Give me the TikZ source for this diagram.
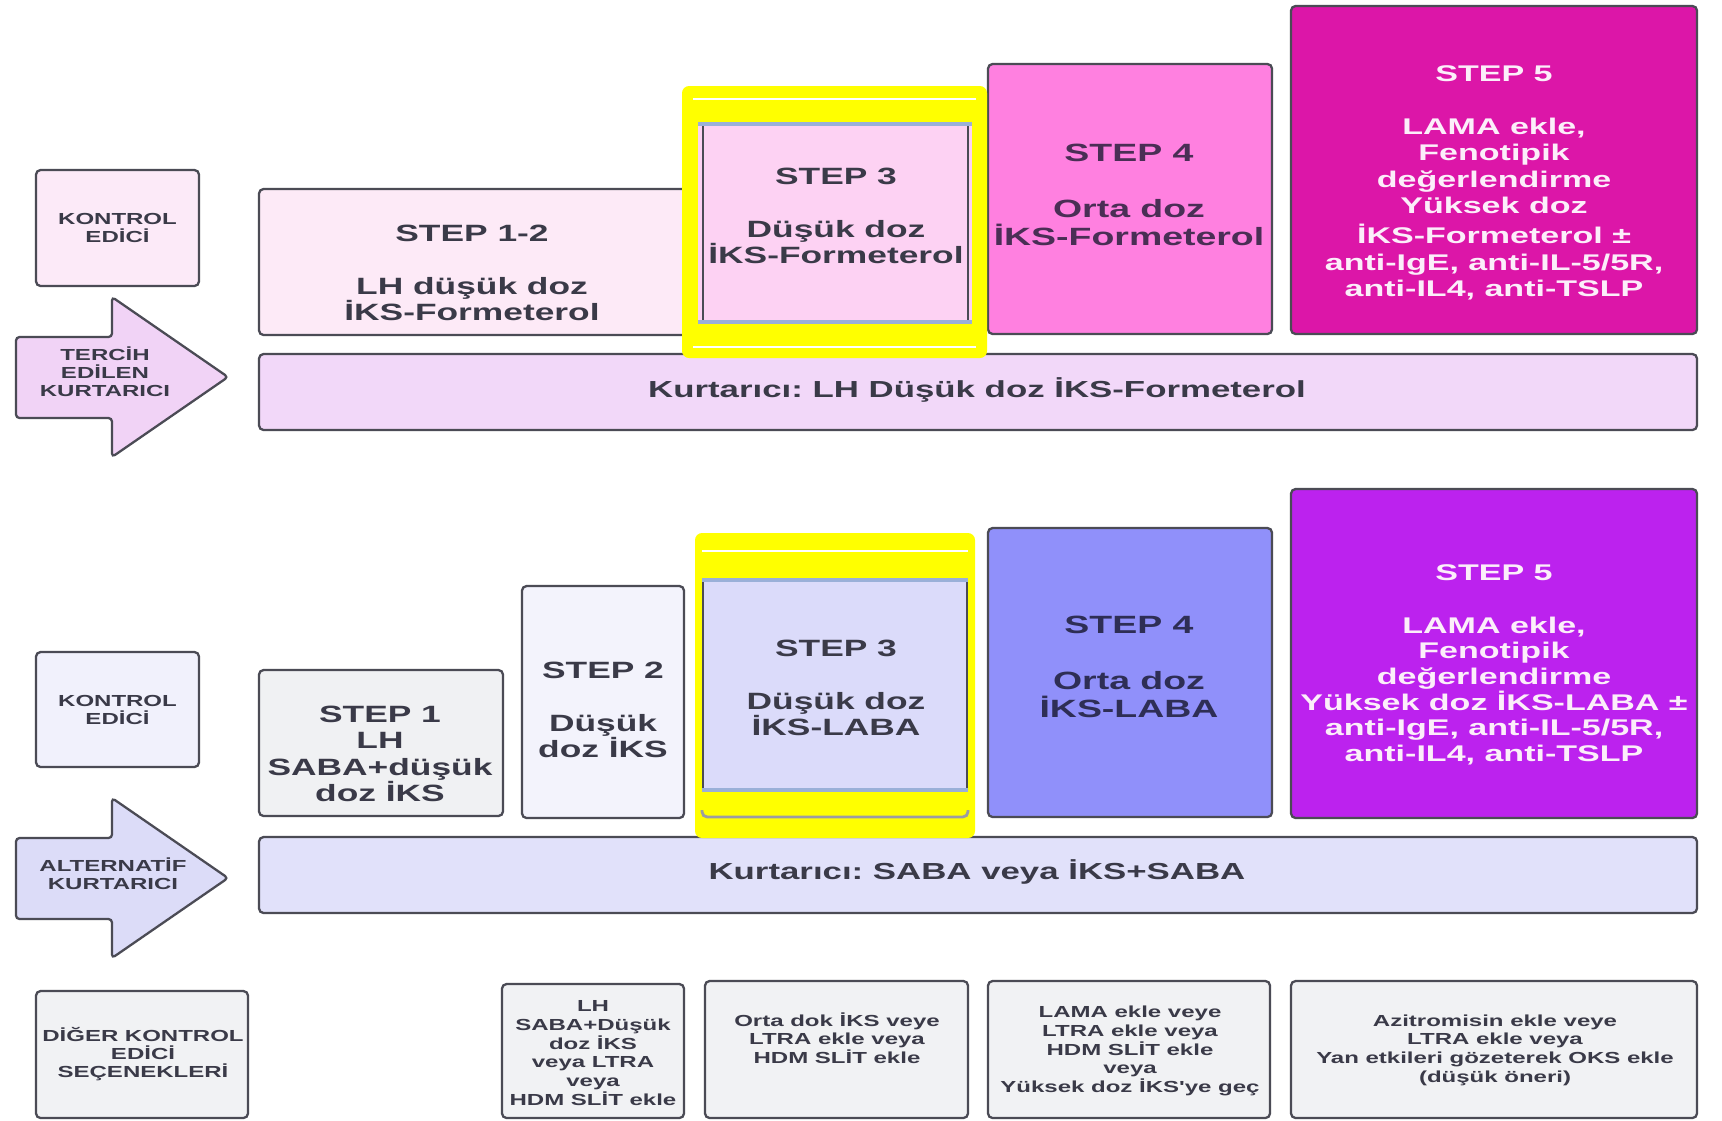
\documentclass[tikz,border=0pt]{standalone}
\usepackage{fontspec}
\newfontfamily\wf{Liberation Sans}[FakeStretch=1.5]
\frenchspacing
\definecolor{bord}{HTML}{4B4B55}
\definecolor{txt}{HTML}{3A3A48}
\definecolor{yel}{HTML}{FFFF00}
\definecolor{kA}{HTML}{FCEAF8}
\definecolor{aA}{HTML}{F1D3F6}
\definecolor{sAB}{HTML}{FDEAF7}
\definecolor{barA}{HTML}{F2D8F9}
\definecolor{sCt}{HTML}{FDD2F3}
\definecolor{sDt}{HTML}{FF80E0}
\definecolor{sEt}{HTML}{DC16A8}
\definecolor{sDtxt}{HTML}{4A2E55}
\definecolor{wE}{HTML}{FCEEFA}
\definecolor{kB}{HTML}{F1F1FC}
\definecolor{aB}{HTML}{DCDCF8}
\definecolor{sAb}{HTML}{F0F1F3}
\definecolor{sBb}{HTML}{F3F3FC}
\definecolor{sCb}{HTML}{DBDBFA}
\definecolor{sDb}{HTML}{9090FA}
\definecolor{sEb}{HTML}{BC22EE}
\definecolor{sDbtxt}{HTML}{2E2E55}
\definecolor{barB}{HTML}{E1E1FA}
\definecolor{ob}{HTML}{F1F2F4}
\definecolor{edgeblue}{HTML}{9AB0D8}
\begin{document}
\begin{tikzpicture}[x=0.01cm,y=-0.01cm,
  bx/.style={draw=bord, line width=0.65pt, rounded corners=1.3pt},
  maintxt/.style={font=\wf\bfseries\fontsize{6.45pt}{7.48pt}\selectfont, align=center, text=txt, inner sep=0pt},
  midtxt/.style={font=\wf\bfseries\fontsize{6.7pt}{7.48pt}\selectfont, align=center, text=txt, inner sep=0pt},
  bartxt/.style={font=\wf\bfseries\fontsize{6.6pt}{7.48pt}\selectfont, align=center, text=txt, inner sep=0pt},
  bigtxt/.style={font=\wf\bfseries\fontsize{7.1pt}{7.9pt}\selectfont, align=center, text=txt, inner sep=0pt},
  sidetxt/.style={font=\wf\bfseries\fontsize{4.55pt}{5.12pt}\selectfont, align=center, text=txt, inner sep=0pt},
  smalltxt/.style={font=\wf\bfseries\fontsize{4.55pt}{5.3pt}\selectfont, align=center, text=txt, inner sep=0pt},
  hl/.style={fill=yel, rounded corners=2pt},
  wline/.style={draw=white, line width=0.7pt},
  bline/.style={draw=edgeblue, line width=0.9pt},
  sline/.style={draw=bord, line width=0.7pt}]
\useasboundingbox (0,0) rectangle (1722,1120);
\clip (0,0) rectangle (1722,1120);
\fill[white] (0,0) rectangle (1722,1120);

% ---------------- top row ----------------
\draw[bx, fill=kA] (36,170) rectangle (199,286);
\node[sidetxt] (kAt) at (117.5,228) {KONTROL\\EDİCİ};
\draw[bx, fill=aA, rounded corners=1pt] (16,337) -- (112,337) -- (112,297) -- (228,377) -- (112,457) -- (112,418) -- (16,418) -- cycle;
\node[sidetxt] (aAt) at (105,372) {TERCİH\\EDİLEN\\KURTARICI};

\draw[bx, fill=barA] (259,354) rectangle (1697,430);
\node[bartxt] (barAt) at (977,390) {Kurtarıcı: LH Düşük doz İKS-Formeterol};

\draw[bx, fill=sAB] (259,189) rectangle (690,335);
\node[midtxt] (sABt) at (472,273) {STEP 1-2\\[7.5pt]LH düşük doz\\İKS-Formeterol};

\draw[bx, fill=sDt] (988,64) rectangle (1272,334);
\node[bigtxt, text=sDtxt] (sDtt) at (1129,195) {STEP 4\\[7.9pt]Orta doz\\İKS-Formeterol};

\draw[bx, fill=sEt] (1291,6) rectangle (1697,334);
\node[maintxt, text=wE] (sEtt) at (1494,183) {STEP 5\\[7.5pt]LAMA ekle,\\Fenotipik\\değerlendirme\\Yüksek doz\\[1.2pt]İKS-Formeterol ±\\anti-IgE, anti-IL-5/5R,\\anti-IL4, anti-TSLP};

% highlighted step 3 (top)
\fill[hl] (682,86) rectangle (987,358);
\draw[wline] (693,99) -- (976,99);
\draw[wline] (693,347) -- (976,347);
\fill[sCt] (698,124) rectangle (972,322);
\draw[bline] (698,124) -- (972,124);
\draw[bline] (698,322) -- (972,322);
\draw[sline] (703,126) -- (703,320);
\draw[sline] (968,126) -- (968,320);
\node[midtxt] (sCtt) at (836,216) {STEP 3\\[7.5pt]Düşük doz\\İKS-Formeterol};

% ---------------- bottom row ----------------
\draw[bx, fill=kB] (36,652) rectangle (199,767);
\node[sidetxt] (kBt) at (117.5,710) {KONTROL\\EDİCİ};
\draw[bx, fill=aB, rounded corners=1pt] (16,838) -- (112,838) -- (112,798) -- (228,878) -- (112,958) -- (112,919) -- (16,919) -- cycle;
\node[sidetxt] (aBt) at (113,874) {ALTERNATİF\\KURTARICI};

\draw[bx, fill=barB] (259,837) rectangle (1697,913);
\node[bartxt] (barBt) at (977,872) {Kurtarıcı: SABA veya İKS+SABA};

\draw[bx, fill=sAb] (259,670) rectangle (503,816);
\node[midtxt] (sAbt) at (380,754) {STEP 1\\LH\\SABA+düşük\\doz İKS};

\draw[bx, fill=sBb] (522,586) rectangle (684,818);
\node[midtxt] (sBbt) at (603,710) {STEP 2\\[7.5pt]Düşük\\doz İKS};

\draw[bx, fill=sDb] (988,528) rectangle (1272,817);
\node[bigtxt, text=sDbtxt] (sDbt) at (1129,667) {STEP 4\\[7.9pt]Orta doz\\İKS-LABA};

\draw[bx, fill=sEb] (1291,489) rectangle (1697,818);
\node[maintxt, text=wE, font=\wf\bfseries\fontsize{6.45pt}{7.3pt}\selectfont] (sEbt) at (1494,665) {STEP 5\\[7.5pt]LAMA ekle,\\Fenotipik\\değerlendirme\\Yüksek doz İKS-LABA ±\\anti-IgE, anti-IL-5/5R,\\anti-IL4, anti-TSLP};

% highlighted step 3 (bottom)
\fill[hl] (695,533) rectangle (975,838);
\draw[wline] (702,551) -- (968,551);
\draw[draw=bord!55, line width=0.8pt, rounded corners=1.5pt] (702,810) -- (702,817) -- (968,817) -- (968,810);
\fill[sCb] (702,580) rectangle (968,790);
\draw[bline] (702,580) -- (968,580);
\draw[bline] (702,790) -- (968,790);
\draw[sline] (703,582) -- (703,788);
\draw[sline] (967,582) -- (967,788);
\node[midtxt] (sCbt) at (836,688) {STEP 3\\[7.5pt]Düşük doz\\İKS-LABA};

% ---------------- other controller options ----------------
\draw[bx, fill=ob] (36,991) rectangle (248,1118);
\node[sidetxt] (oAt) at (143,1054) {DİĞER KONTROL\\EDİCİ\\SEÇENEKLERİ};

\draw[bx, fill=ob] (502,984) rectangle (684,1118);
\node[smalltxt] (oBt) at (593,1053) {LH\\SABA+Düşük\\doz İKS\\veya LTRA\\veya\\HDM SLİT ekle};

\draw[bx, fill=ob] (705,981) rectangle (968,1118);
\node[smalltxt] (oCt) at (837,1038) {Orta dok İKS veye\\LTRA ekle veya\\HDM SLİT ekle};

\draw[bx, fill=ob] (988,981) rectangle (1270,1118);
\node[smalltxt] (oDt) at (1130,1051) {LAMA ekle veye\\LTRA ekle veya\\HDM SLİT ekle\\veya\\Yüksek doz İKS'ye geç};

\draw[bx, fill=ob] (1291,981) rectangle (1697,1118);
\node[smalltxt] (oEt) at (1495,1050) {Azitromisin ekle veye\\LTRA ekle veya\\Yan etkileri gözeterek OKS ekle\\(düşük öneri)};
\end{tikzpicture}
\end{document}
